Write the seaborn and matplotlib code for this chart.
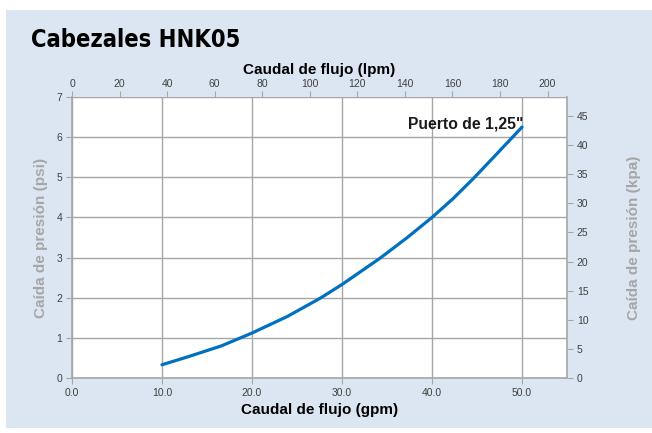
import matplotlib
matplotlib.use("Agg")
import matplotlib.pyplot as plt
import seaborn as sns
import pandas as pd
from matplotlib.patches import Rectangle

sns.set_theme(style="white")
plt.rcParams['font.family'] = ['Liberation Sans', 'DejaVu Sans']

# data
flow_gpm = [10, 12.9, 16.6, 20, 23.9, 27.6, 30, 34.2, 37.2, 40, 42.3, 44.6, 47.1, 50]
drop_psi = [0.33, 0.53, 0.80, 1.12, 1.53, 1.99, 2.33, 2.98, 3.49, 4.0, 4.46, 4.97, 5.56, 6.25]
x_ticks_gpm = [0, 10, 20, 30, 40, 50]
top_ticks_lpm = [0, 20, 40, 60, 80, 100, 120, 140, 160, 180, 200]
right_ticks_kpa = [0, 5, 10, 15, 20, 25, 30, 35, 40, 45]
GPM_TO_LPM = 3.785
PSI_TO_KPA = 6.895

df = pd.DataFrame({"gpm": flow_gpm, "psi": drop_psi})

W, H = 652, 433
fig = plt.figure(figsize=(W / 100, H / 100), dpi=100)
fig.patch.set_facecolor("white")
bg = Rectangle((6 / W, 5 / H), (W - 6) / W, (H - 15) / H,
               transform=fig.transFigure, facecolor="#dce6f2",
               edgecolor="none", zorder=-10)
fig.patches.append(bg)

ax = fig.add_axes([72 / W, (H - 378) / H, (567 - 72) / W, (378 - 97) / H])
ax.set_zorder(1)
ax.set_facecolor("white")
sns.lineplot(data=df, x="gpm", y="psi", ax=ax, color="#0070c0", linewidth=2.3)
for l in ax.lines:
    l.set_solid_joinstyle("round")

ax.set_xlim(0, 55)
ax.set_ylim(0, 7)
ax.set_xticks(x_ticks_gpm)
ax.set_xticklabels([f"{v:.1f}" for v in x_ticks_gpm])
ax.set_yticks(range(0, 8))
ax.grid(True, color="#a6a6a6", linewidth=1.0)
ax.set_axisbelow(True)
for s in ["top", "right"]:
    ax.spines[s].set_visible(False)
for s in ["left", "bottom"]:
    ax.spines[s].set_color("#a6a6a6")
    ax.spines[s].set_linewidth(1.2)
ax.tick_params(axis="both", which="major", direction="out", length=4, width=0.8,
               color="#a6a6a6", labelsize=7.5, labelcolor="#404040", pad=3)
ax.tick_params(axis="x", bottom=True)
ax.tick_params(axis="y", left=True)
ax.set_xlabel("Caudal de flujo (gpm)", fontsize=11, fontweight="bold", color="black", labelpad=4)
ax.set_ylabel("Caída de presión (psi)", fontsize=11, fontweight="bold", color="#a6a6a6", labelpad=6)

# top axis (lpm)
top = ax.secondary_xaxis("top", functions=(lambda g: g * GPM_TO_LPM, lambda l: l / GPM_TO_LPM))
top.set_xticks(top_ticks_lpm)
top.spines["top"].set_visible(False)
top.tick_params(direction="out", length=4, width=0.8, color="#a6a6a6",
                labelsize=7.5, labelcolor="#404040", pad=2)
top.set_xlabel("Caudal de flujo (lpm)", fontsize=11, fontweight="bold", color="black", labelpad=3)

# right axis (kpa)
right = ax.secondary_yaxis("right", functions=(lambda p: p * PSI_TO_KPA, lambda k: k / PSI_TO_KPA))
right.set_yticks(right_ticks_kpa)
right.spines["right"].set_color("#a6a6a6")
right.spines["right"].set_linewidth(1.2)
right.tick_params(direction="out", length=4, width=0.8, color="#a6a6a6",
                  labelsize=7.5, labelcolor="#404040", pad=3)
right.set_ylabel("Caída de presión (kpa)", fontsize=11, fontweight="bold", color="#a6a6a6", labelpad=28)

ax.text(50.2, 6.33, 'Puerto de 1,25"', ha="right", va="center", fontsize=11.3,
        fontweight="bold", color="#1a1a1a")

fig.text(31 / W, 1 - 40 / H, "Cabezales HNK05", fontsize=17, fontweight="bold",
         family=["DejaVu Sans"], fontstretch="condensed",
         ha="left", va="center", color="black")

fig.savefig("out.png", dpi=100)
